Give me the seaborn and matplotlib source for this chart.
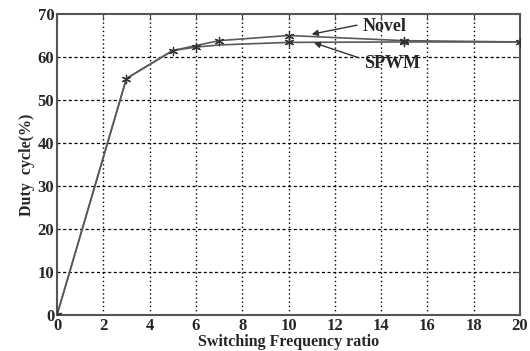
import matplotlib
matplotlib.use("Agg")
import matplotlib.pyplot as plt
import seaborn as sns
import pandas as pd

novel_x = [0, 3, 5, 7, 10, 15, 20]
novel_y = [0, 55.0, 61.5, 63.8, 65.0, 63.8, 63.5]
spwm_x = [0, 3, 5, 6, 7, 10, 15, 20]
spwm_y = [0, 55.0, 61.5, 62.3, 62.8, 63.4, 63.5, 63.5]
spwm_marked = [0, 3, 5, 6]
xticks = list(range(0, 21, 2))
yticks = list(range(0, 71, 10))

df = pd.concat([
    pd.DataFrame({"x": novel_x, "y": novel_y, "s": "Novel"}),
    pd.DataFrame({"x": spwm_x, "y": spwm_y, "s": "SPWM"}),
])
marks = pd.concat([
    pd.DataFrame({"x": novel_x, "y": novel_y}),
    pd.DataFrame({"x": [spwm_x[i] for i in spwm_marked], "y": [spwm_y[i] for i in spwm_marked]}),
])

sns.set_style("white")
plt.rcParams["font.family"] = ["Liberation Serif", "DejaVu Serif"]
plt.rcParams["font.weight"] = "bold"

fig = plt.figure(figsize=(5.30, 3.51), dpi=100)
ax = fig.add_axes([57/530, 1-315/351, (520-57)/530, (315-14)/351])

sns.lineplot(data=df, x="x", y="y", hue="s", palette={"Novel": "#5a5a5a", "SPWM": "#5a5a5a"},
             linewidth=1.2, legend=False, ax=ax, sort=False)
sns.scatterplot(data=marks, x="x", y="y", marker=(6, 2, 0), s=36, color="#333333",
                linewidth=0.9, ax=ax, zorder=5)

ax.set_xlim(0, 20)
ax.set_ylim(0, 70)
ax.set_xticks(xticks)
ax.set_yticks(yticks)
ax.set_xticklabels([str(v) for v in xticks], fontsize=12, fontweight="bold")
ax.set_yticklabels([str(v) for v in yticks], fontsize=12, fontweight="bold")
ax.tick_params(direction="in", length=4, top=True, right=True, pad=2, color="#444444")
for v in xticks[1:-1]:
    ax.axvline(v, color="black", linestyle=(0, (1, 2)), linewidth=1.0, zorder=0)
for v in yticks[1:-1]:
    ax.axhline(v, color="black", linestyle=(0, (2.5, 2)), linewidth=0.9, zorder=0)
for sp in ax.spines.values():
    sp.set_color("#555555")
    sp.set_linewidth(1.5)

ax.set_xlabel("Switching Frequency ratio", fontsize=11.5, fontweight="bold", labelpad=0)
ax.set_ylabel("Duty  cycle(%)", fontsize=11.5, fontweight="bold", labelpad=2)

ax.text(14.17, 67.0, "Novel", fontsize=13, fontweight="bold", va="center", ha="center")
ax.text(14.47, 58.6, "SPWM", fontsize=13, fontweight="bold", va="center", ha="center")
arrow = dict(arrowstyle="-|>", color="#333333", lw=1, shrinkA=0, shrinkB=0, mutation_scale=9)
ax.annotate("", xy=(11.0, 65.3), xytext=(12.96, 67.4), arrowprops=arrow)
ax.annotate("", xy=(11.1, 63.3), xytext=(13.05, 59.8), arrowprops=arrow)

fig.savefig("out.png", dpi=100)
